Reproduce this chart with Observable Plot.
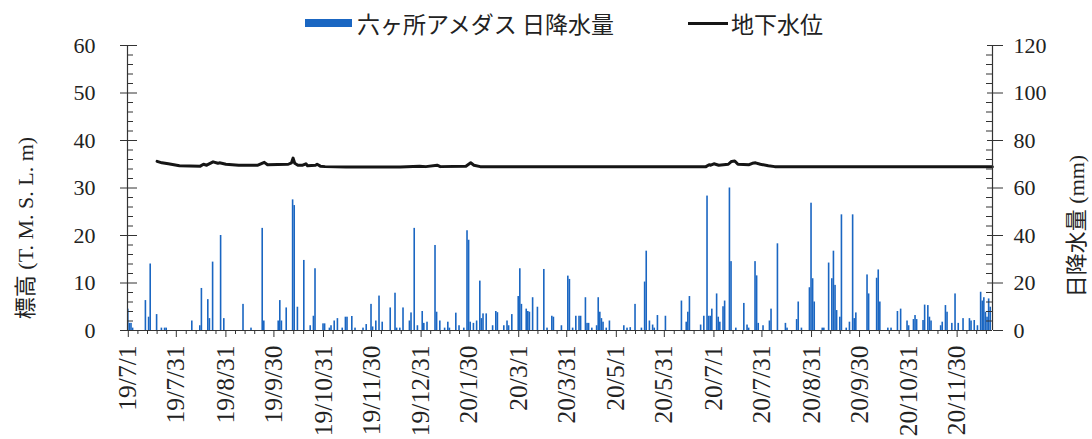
<!DOCTYPE html>
<html>
<head>
<meta charset="utf-8">
<script src="https://cdn.jsdelivr.net/npm/d3@7"></script>
<script src="https://cdn.jsdelivr.net/npm/@observablehq/plot@0.6"></script>
<style>
  body { margin: 0; background: #fff; }
  #wrap { position: relative; width: 1092px; height: 439px; overflow: hidden;
          font-family: "Liberation Serif", "Noto Sans CJK JP", serif; color: #222; }
  #legend { position: relative; height: 33px; }
  #legend .t { position: absolute; top: 10px; font-family: "Noto Sans CJK JP", sans-serif;
               font-size: 23px; line-height: 26px; white-space: nowrap; color: #222; }
  #chart svg { display: block; }
</style>
</head>
<body>
<div id="wrap">
  <div id="legend">
    <div style="position:absolute;left:305px;top:19px;width:47px;height:8px;background:#1a66c2"></div>
    <div class="t" id="lg1" style="left:357px"></div>
    <div style="position:absolute;left:688px;top:22px;width:40px;height:3px;background:#151515"></div>
    <div class="t" id="lg2" style="left:731px"></div>
  </div>
  <div id="chart"></div>
</div>
<script>
// ---- data ----
const seriesNames = ["六ヶ所アメダス 日降水量", "地下水位"];
const leftAxisLabel = "標高 (T. M. S. L. m)";
const rightAxisLabel = "日降水量 (mm)";
const startDate = "2019-07-01"; // day 0
const xTickLabels = ["19/7/1","19/7/31","19/8/31","19/9/30","19/10/31","19/11/30","19/12/31","20/1/30",
  "20/3/1","20/3/31","20/5/1","20/5/31","20/7/1","20/7/31","20/8/31","20/9/30","20/10/31","20/11/30"];
const yLeftTicks = [0, 10, 20, 30, 40, 50, 60];

// daily precipitation (day index since 2019-07-01, mm)
const rainDay = [
  0,1,2,3,11,13,14,18,21,23,24,40,45,46,50,51,53,58,60,72,
  77,84,85,94,95,96,99,103,104,106,110,114,116,117,122,123,126,127,129,131,134,
  136,137,140,142,147,149,152,153,155,157,159,164,167,168,170,172,176,177,179,181,
  184,185,187,192,193,195,198,200,201,205,207,210,212,213,214,216,218,220,221,222,
  224,228,230,231,235,237,238,240,244,245,246,249,250,251,253,256,260,262,265,266,
  271,275,276,278,280,282,283,286,287,288,290,293,294,295,296,297,299,301,310,312,
  314,317,321,323,324,326,328,329,331,336,346,349,350,351,358,360,362,363,364,365,
  368,369,370,372,373,376,377,380,385,387,388,392,393,394,397,401,402,406,411,412,
  418,419,421,426,427,428,429,434,435,438,440,441,442,443,445,446,449,451,453,454,
  455,462,463,468,469,470,475,477,481,483,487,488,491,492,493,497,498,500,501,502,
  508,509,511,512,515,517,519,522,526,527,529,531,533,534,535,536,537,538,539];
const rainMm = [
  9,3,3,1,12.6,5.6,28,6.7,1,1,1,4,2,17.7,13,5,28.8,40,5,11,
  1,43,4,4,12.6,4,9.5,55,52.6,9.8,29.5,2,6,26,2.8,2.8,1,2,4,5,1,
  5.6,5.6,5.9,1,1,2.5,11,1.5,4,14.5,3.5,9.5,15.7,1,1,9.5,4,7.4,43,2,
  8,3,3.5,35.8,7.7,4,1,3.5,1,7.3,2,1,42,38,3.5,3,4,20.8,5,7,
  7,2,8,7.5,2,4,2,6.7,14.3,26,11,9,8,7.7,13.8,9.8,25.7,1,6,5.6,
  2,22.9,21.5,1,6,6,6,13.8,3,3,1,2,13.8,7.7,5,3.5,1,4,2,1,
  1.2,11,1,20.4,33.4,4,2.3,1,6.3,6,12.4,3.5,7.7,14.3,2.3,6,56.6,6,6,9,
  15.4,5.6,3.5,10,12.4,60,29,1,11.4,2.3,1,29,23,3,2,4,9,36.5,3,1,
  4.6,12,1,18,53.6,21.8,12,1,1,28.4,21.8,33.4,19,8.4,5.6,48.7,1,3.5,48.7,5,
  7.4,23.4,15.4,22,25.5,12,1,1,8,9,4,2,4.6,6.3,4.6,4.2,10.7,10.5,5.6,4,
  2,3.5,10.5,7.7,3,15.4,3,5,5,4,4.2,2,16.1,12.4,13.8,7.7,5.6,13.3,9.8];

// groundwater level (day index since 2019-07-01, T.M.S.L. m)
const gwDay = [18,21,25,32,45,47,49,53,56,57,61,69,81,85,87,100,102,103,104,106,109,111,112,117,118,
  120,123,136,170,182,186,193,195,211,214,216,220,361,363,364,366,369,375,377,379,381,388,390,392,395,400,404,540];
const gwLevel = [35.6,35.3,35.1,34.7,34.6,35.0,34.8,35.5,35.2,35.3,35.0,34.8,34.8,35.4,34.9,35.0,35.3,36.3,35.2,34.8,
  34.8,35.1,34.7,34.8,35.0,34.6,34.5,34.4,34.4,34.6,34.5,34.8,34.5,34.6,35.3,34.8,34.5,34.5,34.9,34.8,
  35.1,34.8,35.0,35.6,35.7,35.0,34.9,35.2,35.3,35.0,34.7,34.5,34.5];

// ---- build ----
document.getElementById("lg1").textContent = seriesNames[0];
document.getElementById("lg2").textContent = seriesNames[1];

const DAY = 864e5;
const t0 = Date.parse(startDate + "T00:00:00Z");
const dayDate = d => new Date(t0 + d * DAY);
const rain = rainDay.map((d, i) => ({date: dayDate(d), mm: rainMm[i]}));
const gw = gwDay.map((d, i) => ({date: dayDate(d), level: gwLevel[i]}));

const parseLabel = s => { const [y, m, d] = s.split("/").map(Number); return new Date(Date.UTC(2000 + y, m - 1, d)); };
const majorDates = xTickLabels.map(parseLabel);
const labelByTime = new Map(majorDates.map((d, i) => [+d, xTickLabels[i]]));

const xStart = dayDate(-0.5), xEnd = dayDate(540.1);
const minorDates = [];
for (let i = 0; i < majorDates.length - 1; i++) {
  const a = +majorDates[i], b = +majorDates[i + 1];
  for (let k = 1; k < 5; k++) minorDates.push(new Date(a + (b - a) * k / 5));
}
{
  const step = 6.1 * DAY;
  for (let t = +majorDates[majorDates.length - 1] + step; t <= +xEnd; t += step) minorDates.push(new Date(t));
}
const yMinor = d3.range(0, 61, 2).filter(v => v % 10 !== 0);

const W = 1092, H = 406, mL = 127, mR = 100, mT = 12, mB = 109;
const fw = W - mL - mR;
const ink = "#333";
const blue = "#1a66c2";

const chart = Plot.plot({
  width: W, height: H,
  marginLeft: mL, marginRight: mR, marginTop: mT, marginBottom: mB,
  style: {fontFamily: '"Liberation Serif", "Noto Sans CJK JP", serif', color: "#222", background: "transparent"},
  x: {type: "utc", domain: [xStart, xEnd]},
  y: {domain: [0, 60]},
  marks: [
    Plot.rectY(rain, {x1: d => new Date(+d.date - 0.5 * DAY), x2: d => new Date(+d.date + 0.5 * DAY),
      y: d => d.mm / 2, fill: blue}),
    Plot.line(gw, {x: "date", y: "level", stroke: "#151515", strokeWidth: 3, strokeLinejoin: "round", strokeLinecap: "round"}),
    Plot.ruleY([0], {stroke: ink, strokeWidth: 1.2}),
    Plot.ruleX([xStart, xEnd], {stroke: ink, strokeWidth: 1.2}),
    Plot.tickY(yMinor, {y: d => d, insetRight: fw - 6, stroke: ink}),
    Plot.tickY(yLeftTicks, {y: d => d, insetRight: fw - 10, stroke: ink}),
    Plot.tickY(yMinor, {y: d => d, insetLeft: fw - 6, stroke: ink}),
    Plot.tickY(yLeftTicks, {y: d => d, insetLeft: fw - 5, stroke: ink}),
    Plot.axisY(yLeftTicks, {anchor: "left", tickSize: 7, tickPadding: 25, fontSize: 22, label: null, stroke: ink}),
    Plot.axisY(yLeftTicks, {anchor: "right", tickSize: 10, tickPadding: 11, fontSize: 22, label: null, stroke: ink,
      tickFormat: d => String(d * 2)}),
    Plot.axisX(minorDates, {tickSize: 4, tickFormat: () => "", label: null, stroke: ink}),
    Plot.axisX(majorDates, {tickSize: 7, tickPadding: 8, tickRotate: -90, fontSize: 25.5, label: null, stroke: ink,
      tickFormat: d => labelByTime.get(+d)}),
    Plot.text([leftAxisLabel], {frameAnchor: "left", rotate: -90, textAnchor: "middle", lineAnchor: "middle",
      dx: -102, dy: 40, fontSize: 22, fill: "#222"}),
    Plot.text([rightAxisLabel], {frameAnchor: "right", rotate: -90, textAnchor: "middle", lineAnchor: "middle",
      dx: 84, dy: 38, fontSize: 22, fill: "#222"})
  ]
});
document.getElementById("chart").appendChild(chart);
</script>
</body>
</html>
